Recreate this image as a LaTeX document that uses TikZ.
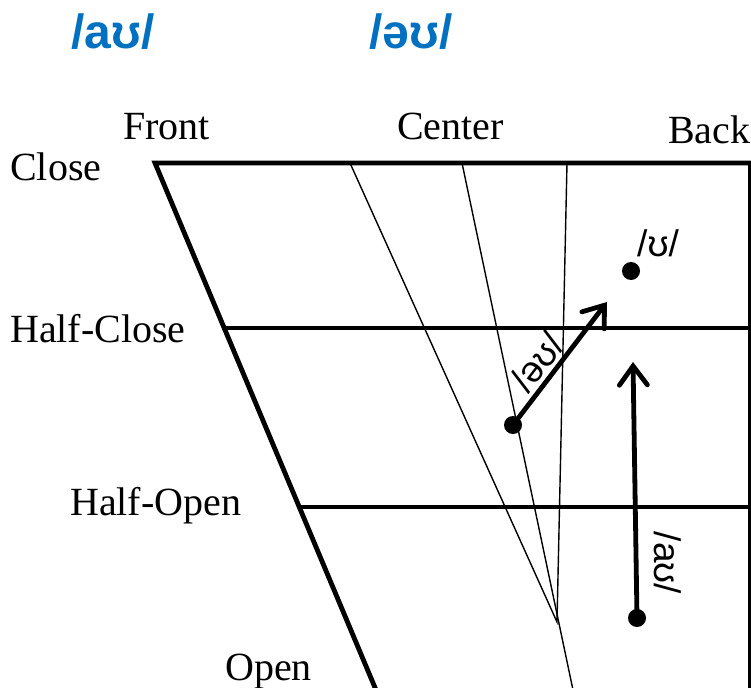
\documentclass[tikz,border=0pt]{standalone}
\usepackage{fontspec}
\setmainfont{Liberation Serif}
\newfontfamily\ipafont{Liberation Sans}
\usetikzlibrary{arrows.meta}
\definecolor{titleblue}{RGB}{0,112,192}
\begin{document}
\begin{tikzpicture}[x=1pt,y=-1pt,
  axislabel/.style={inner sep=0pt,anchor=base west,font=\fontsize{40}{44}\selectfont},
  ipalabel/.style={inner sep=0pt,font=\ipafont\fontsize{37}{40}\selectfont},
  titlelabel/.style={inner sep=0pt,text=titleblue,font=\ipafont\bfseries\fontsize{48}{52}\selectfont},
  thickline/.style={line width=4.8pt},
  thinline/.style={line width=1.4pt},
  dot/.style={circle,fill=black,inner sep=0pt,minimum size=18pt},
  move/.style={line width=4.8pt,-{Straight Barb[length=19pt,width=28pt,line cap=round]}}]
\useasboundingbox (0,0) rectangle (751,687);
% titles
\node[titlelabel] (t1) at (113,32) {/aʊ/};
\node[titlelabel] (t2) at (411,32) {/əʊ/};
% axis labels
\node[axislabel] (front) at (123,140) {Front};
\node[axislabel] (center) at (397,140) {Center};
\node[axislabel] (back) at (668,143) {Back};
\node[axislabel] (close) at (10,180) {Close};
\node[axislabel] (hclose) at (10,342) {Half-Close};
\node[axislabel] (hopen) at (70,515) {Half-Open};
\node[axislabel] (open) at (225,680) {Open};
% chart frame
\coordinate (FC) at (155,163);
\coordinate (TR) at (751,163);
\coordinate (FO) at (376,690);
\coordinate (RT) at (749,163);
\coordinate (RB) at (749,690);
\coordinate (HCl) at (225,328);
\coordinate (HCr) at (751,328);
\coordinate (HOl) at (300,507);
\coordinate (HOr) at (751,507);
\draw[thickline,line join=miter] (TR) -- (FC) -- (FO);
\draw[line width=3pt] (RT) -- (RB);
\draw[thickline] (HCl) -- (HCr);
\draw[thickline] (HOl) -- (HOr);
% thin guide lines
\coordinate (A1) at (350,163);
\coordinate (B1) at (462,163);
\coordinate (C1) at (567,163);
\coordinate (M) at (557,622);
\coordinate (B2) at (573,690);
\draw[thinline] (A1) -- (M) -- (C1);
\draw[thinline] (B1) -- (B2);
% vowels
\node[dot] (u) at (631,271) {};
\node[ipalabel] (ulab) at (658,243) {/ʊ/};
\node[dot] (schwa) at (513,425) {};
\coordinate (schwaend) at (607,302);
\draw[move] (schwa.center) -- (schwaend);
\node[ipalabel,rotate=52.6] (schwalab) at (537,362) {/əʊ/};
\node[dot] (a) at (637,618) {};
\coordinate (aend) at (633,362);
\draw[move] (a.center) -- (aend);
\node[ipalabel,rotate=-90] (alab) at (668,563) {/aʊ/};
\end{tikzpicture}
\end{document}
